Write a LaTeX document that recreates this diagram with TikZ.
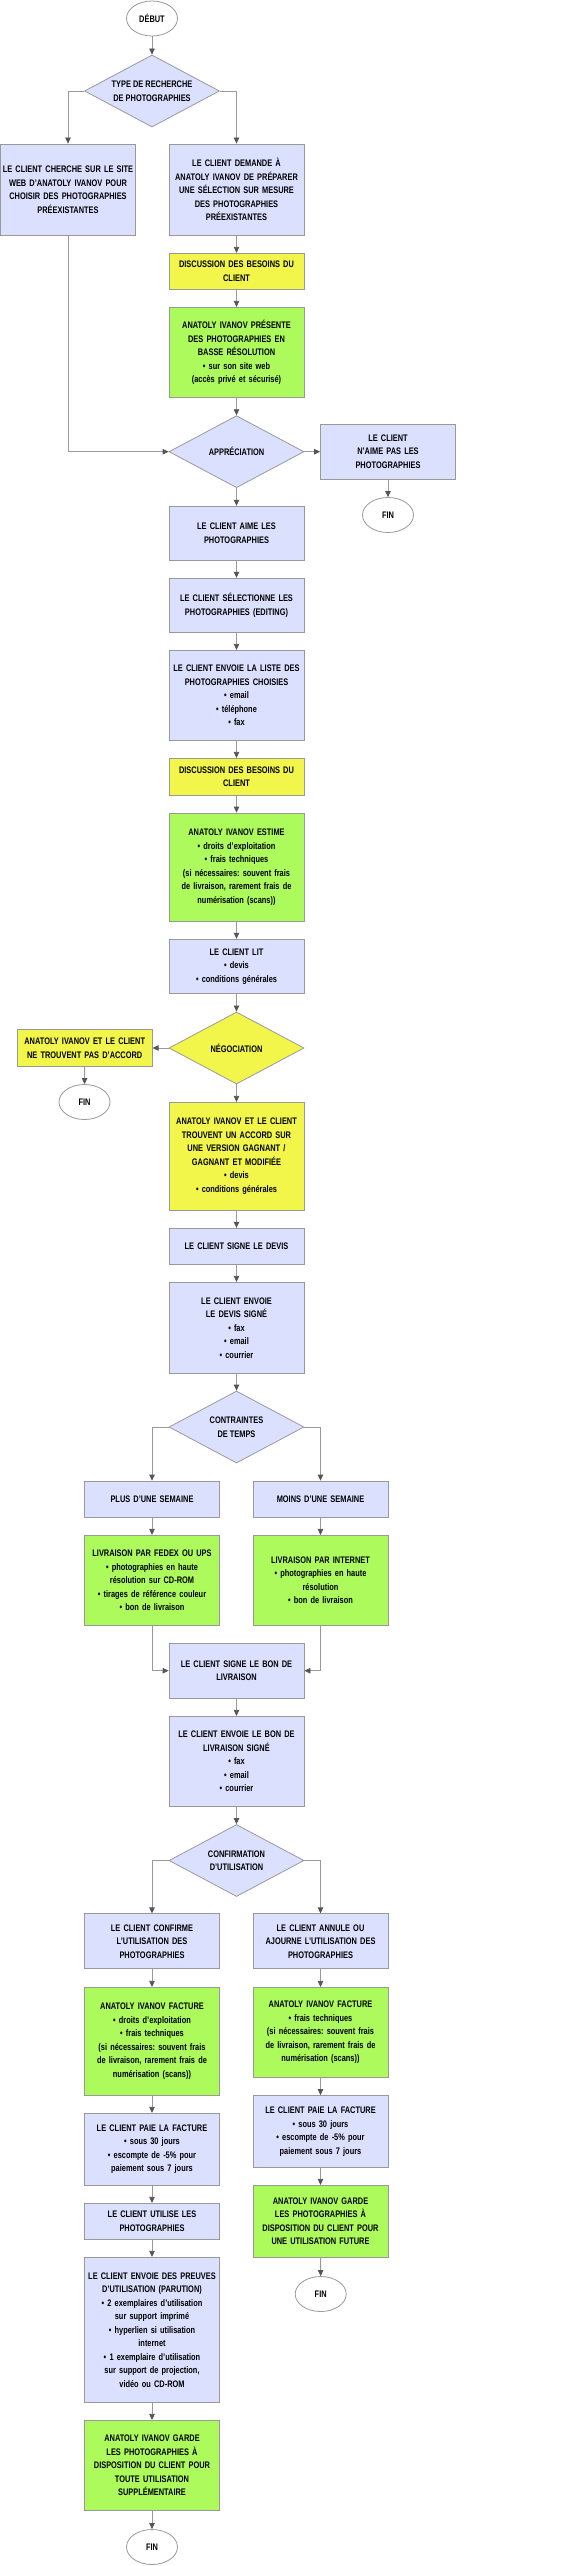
\documentclass[tikz,border=0pt]{standalone}
\usepackage{fontspec}
\setmainfont[FakeStretch=0.78]{Liberation Sans}
\usetikzlibrary{shapes.geometric,arrows.meta}
\definecolor{boxblue}{HTML}{DCE0FF}
\definecolor{boxyellow}{HTML}{F3F64A}
\definecolor{boxgreen}{HTML}{ACFA5C}
\definecolor{edgegray}{HTML}{999999}
\definecolor{tipgray}{HTML}{555555}
\frenchspacing

\begin{document}
\begin{tikzpicture}[x=1pt,y=-1pt,
    font=\fontsize{9.5}{13.5}\selectfont\bfseries,
    box/.style={draw=edgegray,line width=0.8pt,fill=boxblue,minimum width=135pt,text width=133pt,align=center,inner sep=0pt},
    yellowbox/.style={box,fill=boxyellow},
    greenbox/.style={box,fill=boxgreen},
    decision/.style={diamond,aspect=1.875,draw=edgegray,line width=0.8pt,fill=boxblue,minimum width=135pt,minimum height=72pt,inner sep=0pt,align=center},
    endpoint/.style={ellipse,draw=edgegray,line width=0.8pt,fill=white,minimum width=51pt,minimum height=35pt,inner sep=0pt},
    arrow/.style={draw=edgegray,line width=0.8pt,-{Triangle[length=6pt,width=5.5pt,color=tipgray]}}]
                \useasboundingbox (0,0) rectangle (560,2566);
                \node[endpoint] (debut) at (152,18.5) {DÉBUT};
                \node[decision] (typerech) at (152,91) {TYPE DE RECHERCHE\\DE PHOTOGRAPHIES};
                \node[box,minimum height=91pt] (siteweb) at (68,189.5) {LE CLIENT CHERCHE SUR LE SITE\\WEB D’ANATOLY IVANOV POUR\\CHOISIR DES PHOTOGRAPHIES\\PRÉEXISTANTES};
                \node[box,minimum height=91pt] (demande) at (236.5,189.5) {LE CLIENT DEMANDE À\\ANATOLY IVANOV DE PRÉPARER\\UNE SÉLECTION SUR MESURE\\DES PHOTOGRAPHIES\\PRÉEXISTANTES};
                \node[yellowbox,minimum height=36pt] (besoinsA) at (236.5,271.3) {DISCUSSION DES BESOINS DU\\CLIENT};
                \node[greenbox,minimum height=90pt] (presente) at (236.5,352.3) {ANATOLY IVANOV PRÉSENTE\\DES PHOTOGRAPHIES EN\\BASSE RÉSOLUTION\\• sur son site web\\(accès privé et sécurisé)};
                \node[decision] (apprec) at (236.5,451.7) {APPRÉCIATION};
                \node[box,minimum height=55pt] (naimepas) at (388,451.7) {LE CLIENT\\N’AIME PAS LES\\PHOTOGRAPHIES};
                \node[endpoint] (finA) at (388,515) {FIN};
                \node[box,minimum height=54pt] (aime) at (236.5,533.2) {LE CLIENT AIME LES\\PHOTOGRAPHIES};
                \node[box,minimum height=54pt] (selection) at (236.5,605.2) {LE CLIENT SÉLECTIONNE LES\\PHOTOGRAPHIES (EDITING)};
                \node[box,minimum height=90pt] (liste) at (236.5,695.3) {LE CLIENT ENVOIE LA LISTE DES\\PHOTOGRAPHIES CHOISIES\\• email\\• téléphone\\• fax};
                \node[yellowbox,minimum height=37pt] (besoinsB) at (236.5,776.8) {DISCUSSION DES BESOINS DU\\CLIENT};
                \node[greenbox,minimum height=108pt] (estime) at (236.5,867) {ANATOLY IVANOV ESTIME\\• droits d’exploitation\\• frais techniques\\(si nécessaires: souvent frais\\de livraison, rarement frais de\\numérisation (scans))};
                \node[box,minimum height=54pt] (lit) at (236.5,966.2) {LE CLIENT LIT\\• devis\\• conditions générales};
                \node[decision,fill=boxyellow] (nego) at (236.5,1048) {NÉGOCIATION};
                \node[yellowbox,minimum height=37pt] (pasaccord) at (84.7,1048) {ANATOLY IVANOV ET LE CLIENT\\NE TROUVENT PAS D’ACCORD};
                \node[endpoint] (finB) at (84.5,1102) {FIN};
                \node[yellowbox,minimum height=108pt] (accord) at (236.5,1156.3) {ANATOLY IVANOV ET LE CLIENT\\TROUVENT UN ACCORD SUR\\UNE VERSION GAGNANT /\\GAGNANT ET MODIFIÉE\\• devis\\• conditions générales};
                \node[box,minimum height=36pt] (signe) at (236.5,1246.2) {LE CLIENT SIGNE LE DEVIS};
                \node[box,minimum height=91pt] (envoiedevis) at (236.5,1327.8) {LE CLIENT ENVOIE\\LE DEVIS SIGNÉ\\• fax\\• email\\• courrier};
                \node[decision] (temps) at (236.5,1427) {CONTRAINTES\\DE TEMPS};
                \node[box,minimum height=36pt] (plus) at (152,1499) {PLUS D’UNE SEMAINE};
                \node[box,minimum height=36pt] (moins) at (320.5,1499) {MOINS D’UNE SEMAINE};
                \node[greenbox,minimum height=90pt] (fedex) at (152,1580.3) {LIVRAISON PAR FEDEX OU UPS\\• photographies en haute\\résolution sur CD-ROM\\• tirages de référence couleur\\• bon de livraison};
                \node[greenbox,minimum height=90pt] (internet) at (320.5,1580.3) {LIVRAISON PAR INTERNET\\• photographies en haute\\résolution\\• bon de livraison};
                \node[box,minimum height=55pt] (bon) at (236.5,1670.7) {LE CLIENT SIGNE LE BON DE\\LIVRAISON};
                \node[box,minimum height=90pt] (envoiebon) at (236.5,1761.3) {LE CLIENT ENVOIE LE BON DE\\LIVRAISON SIGNÉ\\• fax\\• email\\• courrier};
                \node[decision] (confirmation) at (236.5,1860.5) {CONFIRMATION\\D’UTILISATION};
                \node[box,minimum height=55pt] (confirme) at (152,1941.3) {LE CLIENT CONFIRME\\L’UTILISATION DES\\PHOTOGRAPHIES};
                \node[box,minimum height=55pt] (annule) at (320.5,1941.3) {LE CLIENT ANNULE OU\\AJOURNE L’UTILISATION DES\\PHOTOGRAPHIES};
                \node[greenbox,minimum height=108pt] (factureA) at (152,2041.3) {ANATOLY IVANOV FACTURE\\• droits d’exploitation\\• frais techniques\\(si nécessaires: souvent frais\\de livraison, rarement frais de\\numérisation (scans))};
                \node[greenbox,minimum height=90pt] (factureB) at (320.5,2032.3) {ANATOLY IVANOV FACTURE\\• frais techniques\\(si nécessaires: souvent frais\\de livraison, rarement frais de\\numérisation (scans))};
                \node[box,minimum height=72pt] (paieB) at (320.5,2131.5) {LE CLIENT PAIE LA FACTURE\\• sous 30 jours\\• escompte de -5\% pour\\paiement sous 7 jours};
                \node[greenbox,minimum height=72pt] (gardeB) at (320.5,2221.3) {ANATOLY IVANOV GARDE\\LES PHOTOGRAPHIES À\\DISPOSITION DU CLIENT POUR\\UNE UTILISATION FUTURE};
                \node[endpoint] (finC) at (320.7,2294) {FIN};
                \node[box,minimum height=72pt] (paieA) at (152,2149.3) {LE CLIENT PAIE LA FACTURE\\• sous 30 jours\\• escompte de -5\% pour\\paiement sous 7 jours};
                \node[box,minimum height=36pt] (utilise) at (152,2221.3) {LE CLIENT UTILISE LES\\PHOTOGRAPHIES};
                \node[box,minimum height=145pt] (preuves) at (152,2329.8) {LE CLIENT ENVOIE DES PREUVES\\D’UTILISATION (PARUTION)\\• 2 exemplaires d’utilisation\\sur support imprimé\\• hyperlien si utilisation\\internet\\• 1 exemplaire d’utilisation\\sur support de projection,\\vidéo ou CD-ROM};
                \node[greenbox,minimum height=90pt] (gardeA) at (152,2465.3) {ANATOLY IVANOV GARDE\\LES PHOTOGRAPHIES À\\DISPOSITION DU CLIENT POUR\\TOUTE UTILISATION\\SUPPLÉMENTAIRE};
                \node[endpoint] (finD) at (152,2547) {FIN};
                \draw[arrow] (debut) -- (typerech);
                \draw[arrow] (typerech.west) -| (siteweb.north);
                \draw[arrow] (typerech.east) -| (demande.north);
                \draw[arrow] (demande) -- (besoinsA);
                \draw[arrow] (besoinsA) -- (presente);
                \draw[arrow] (presente) -- (apprec);
                \draw[arrow] (siteweb.south) |- (apprec.west);
                \draw[arrow] (apprec.east) -- (naimepas.west);
                \draw[arrow] (naimepas) -- (finA);
                \draw[arrow] (apprec) -- (aime);
                \draw[arrow] (aime) -- (selection);
                \draw[arrow] (selection) -- (liste);
                \draw[arrow] (liste) -- (besoinsB);
                \draw[arrow] (besoinsB) -- (estime);
                \draw[arrow] (estime) -- (lit);
                \draw[arrow] (lit) -- (nego);
                \draw[arrow] (nego.west) -- (pasaccord.east);
                \draw[arrow] (pasaccord) -- (finB);
                \draw[arrow] (nego) -- (accord);
                \draw[arrow] (accord) -- (signe);
                \draw[arrow] (signe) -- (envoiedevis);
                \draw[arrow] (envoiedevis) -- (temps);
                \draw[arrow] (temps.west) -| (plus.north);
                \draw[arrow] (temps.east) -| (moins.north);
                \draw[arrow] (plus) -- (fedex);
                \draw[arrow] (moins) -- (internet);
                \draw[arrow] (fedex.south) |- (bon.west);
                \draw[arrow] (internet.south) |- (bon.east);
                \draw[arrow] (bon) -- (envoiebon);
                \draw[arrow] (envoiebon) -- (confirmation);
                \draw[arrow] (confirmation.west) -| (confirme.north);
                \draw[arrow] (confirmation.east) -| (annule.north);
                \draw[arrow] (confirme) -- (factureA);
                \draw[arrow] (factureA) -- (paieA);
                \draw[arrow] (paieA) -- (utilise);
                \draw[arrow] (utilise) -- (preuves);
                \draw[arrow] (preuves) -- (gardeA);
                \draw[arrow] (gardeA) -- (finD);
                \draw[arrow] (annule) -- (factureB);
                \draw[arrow] (factureB) -- (paieB);
                \draw[arrow] (paieB) -- (gardeB);
                \draw[arrow] (gardeB) -- (finC);
            \end{tikzpicture}
\end{document}
